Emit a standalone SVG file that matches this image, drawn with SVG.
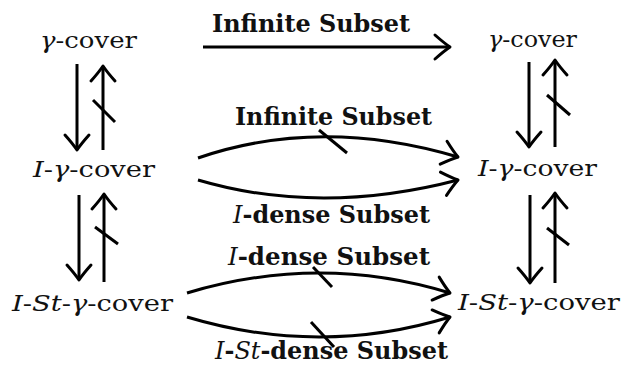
<svg xmlns="http://www.w3.org/2000/svg" width="623" height="365" viewBox="0 0 623 365">
<style>
.n{font-family:"DejaVu Serif","Liberation Serif",serif;font-size:22px;fill:#111}
.l{font-family:"DejaVu Serif","Liberation Serif",serif;font-size:24px;font-weight:bold;fill:#111}
.i{font-style:italic;font-weight:normal}
.c{fill:none;stroke:#000;stroke-width:3;stroke-linecap:butt}
.s{fill:none;stroke:#000;stroke-width:3}
</style>
<defs>
<marker id="ah" markerUnits="userSpaceOnUse" orient="auto" refX="0" refY="0" markerWidth="1" markerHeight="1" overflow="visible">
<path d="M-15,-12 Q-6,-4 0,0 Q-6,4 -15,12" fill="none" stroke="#000" stroke-width="3" stroke-linejoin="round" stroke-linecap="round"/>
</marker>
</defs>
<rect width="623" height="365" fill="#fff"/>
<g id="nodes">
<g id="L1"><text class="n" x="40" y="48" textLength="97" lengthAdjust="spacingAndGlyphs"><tspan class="i">γ</tspan>-cover</text></g>
<g id="L2"><text class="n" x="33" y="177" textLength="122" lengthAdjust="spacingAndGlyphs"><tspan class="i">I</tspan>-<tspan class="i">γ</tspan>-cover</text></g>
<g id="L3"><text class="n" x="12" y="311" textLength="161" lengthAdjust="spacingAndGlyphs"><tspan class="i">I</tspan>-<tspan class="i">St</tspan>-<tspan class="i">γ</tspan>-cover</text></g>
<g id="R1"><text class="n" x="488" y="47" textLength="89" lengthAdjust="spacingAndGlyphs"><tspan class="i">γ</tspan>-cover</text></g>
<g id="R2"><text class="n" x="478" y="176" textLength="119" lengthAdjust="spacingAndGlyphs"><tspan class="i">I</tspan>-<tspan class="i">γ</tspan>-cover</text></g>
<g id="R3"><text class="n" x="458" y="310" textLength="162" lengthAdjust="spacingAndGlyphs"><tspan class="i">I</tspan>-<tspan class="i">St</tspan>-<tspan class="i">γ</tspan>-cover</text></g>
</g>
<g id="connectors">
<path class="c" d="M203,47 L450,47" marker-end="url(#ah)"/>
<path class="c" d="M77,64 L77,150" marker-end="url(#ah)"/>
<path class="c" d="M103,150 L103,66" marker-end="url(#ah)"/>
<path class="s" d="M93,100 L115,122"/>
<path class="c" d="M79,195 L79,280" marker-end="url(#ah)"/>
<path class="c" d="M104,282 L104,194" marker-end="url(#ah)"/>
<path class="s" d="M95,227 L118,244"/>
<path class="c" d="M529,62 L529,147" marker-end="url(#ah)"/>
<path class="c" d="M555,147 L555,60" marker-end="url(#ah)"/>
<path class="s" d="M547,95 L570,115"/>
<path class="c" d="M530,195 L530,283" marker-end="url(#ah)"/>
<path class="c" d="M555,283 L555,193" marker-end="url(#ah)"/>
<path class="s" d="M547,228 L569,245"/>
<path class="c" d="M198,158 Q320,116 458,157" marker-end="url(#ah)"/>
<path class="s" d="M319,130 L347,153"/>
<path class="c" d="M198,180 Q320,216 458,180" marker-end="url(#ah)"/>
<path class="c" d="M187,293 Q320,253 450,293" marker-end="url(#ah)"/>
<path class="s" d="M313,267 L332,287"/>
<path class="c" d="M187,317 Q320,357 450,317" marker-end="url(#ah)"/>
<path class="s" d="M311,322 L334,347"/>
<text class="l" x="212" y="32" textLength="198" lengthAdjust="spacingAndGlyphs">Infinite Subset</text>
<text class="l" x="235" y="125" textLength="197" lengthAdjust="spacingAndGlyphs">Infinite Subset</text>
<text class="l" x="233" y="223" textLength="197" lengthAdjust="spacingAndGlyphs"><tspan class="i">I</tspan>-dense Subset</text>
<text class="l" x="228" y="265" textLength="202" lengthAdjust="spacingAndGlyphs"><tspan class="i">I</tspan>-dense Subset</text>
<text class="l" x="215" y="359" textLength="233" lengthAdjust="spacingAndGlyphs"><tspan class="i">I</tspan>-<tspan class="i">St</tspan>-dense Subset</text>
</g>
</svg>
